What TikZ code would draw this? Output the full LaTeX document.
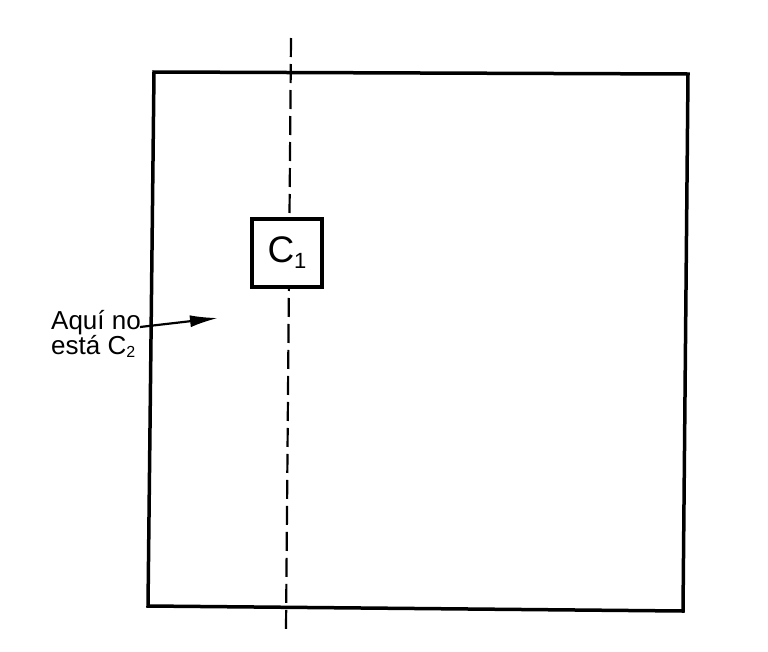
\documentclass[tikz,border=0pt]{standalone}
\usepackage{fontspec}
\setmainfont{Liberation Sans}
\usetikzlibrary{arrows.meta}
\newcommand{\lowsub}[2]{\raisebox{#1}{\fontsize{#2}{#2}\selectfont}}
\tikzset{
  frame/.style={line width=3.5pt, line join=miter},
  axis/.style={line width=2.2pt, dash pattern=on 19pt off 7pt},
  cbox/.style={draw, line width=3.5pt, minimum width=70pt, minimum height=68pt, inner sep=0pt, font=\fontsize{37}{37}\selectfont},
  lbl/.style={align=left, inner sep=0pt, font=\fontsize{26}{22}\selectfont},
  pointer/.style={line width=2.2pt, -{Latex[length=28pt,width=12pt]}}
}
\begin{document}
\begin{tikzpicture}[x=1pt,y=-1pt]
\useasboundingbox (0,0) rectangle (768,651);
\coordinate (tl) at (154,72);
\coordinate (tr) at (688,74);
\coordinate (br) at (683,611);
\coordinate (bl) at (148,606);
\draw[frame] (tl) -- (tr) -- (br) -- (bl) -- cycle;
\coordinate (dtop) at (291,38);
\coordinate (dbot) at (286,630);
\draw[axis] (dtop) -- (dbot);
\node[cbox, fill=white] (c1) at (287,253) {C\raisebox{-6pt}{\fontsize{22}{22}\selectfont 1}};
\node[lbl] (txt) at (96,334) {Aquí no\\está C\raisebox{-3pt}{\fontsize{16}{16}\selectfont 2}};
\coordinate (tip) at (218,318);
\coordinate (start) at (140,327);
\draw[pointer] (start) -- (tip);
\end{tikzpicture}
\end{document}
